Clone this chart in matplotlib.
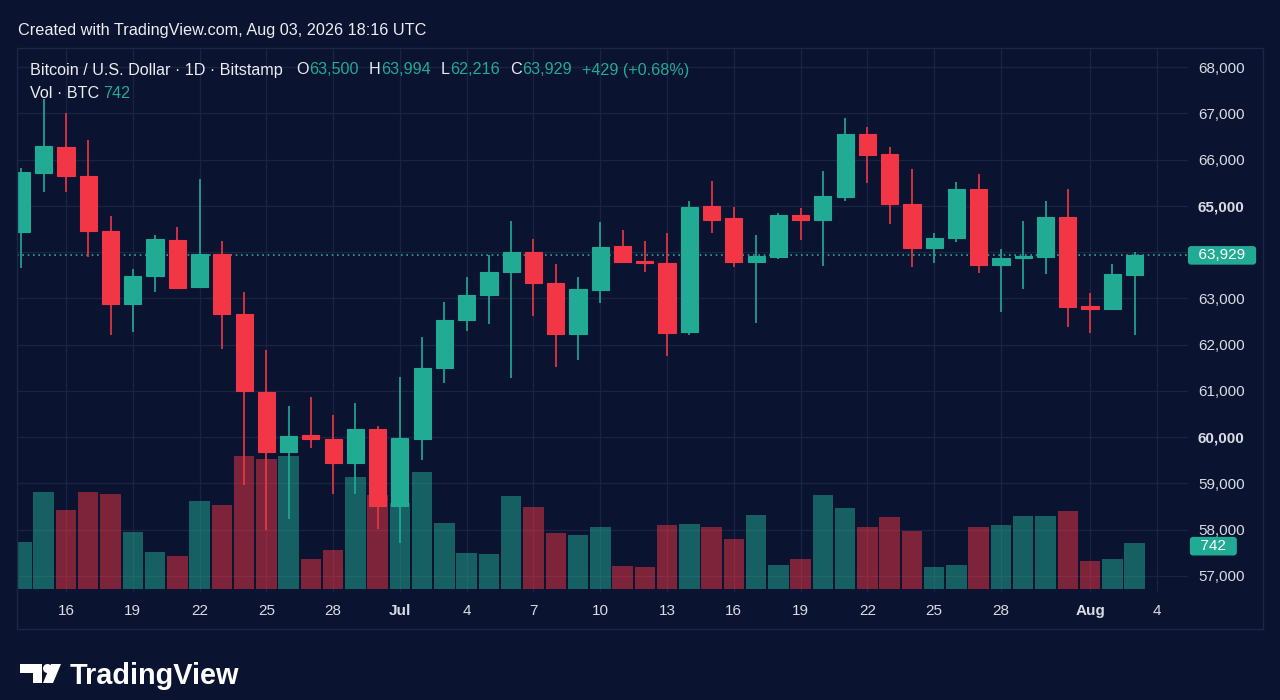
import numpy as np
import pandas as pd
import matplotlib
matplotlib.use("Agg")
import matplotlib.pyplot as plt
from matplotlib.patches import Rectangle, Circle, Polygon
from matplotlib.transforms import blended_transform_factory

plt.rcParams['font.family'] = ['Liberation Sans', 'DejaVu Sans']

# ---------------- data ----------------
dates = pd.date_range('2026-06-14', '2026-08-03', freq='D')
opens = [64434, 65709, 66278, 65638, 64456, 62872, 63477, 64255, 63239, 63965,
         62655, 60983, 59686, 60047, 59954, 59448, 60176, 58512, 59960, 61488,
         62532, 63073, 63576, 64008, 63325, 62230, 63181, 64131, 63810, 63758,
         62266, 64996, 64730, 63786, 63900, 64801, 64693, 65190, 66546, 66113,
         65046, 64095, 64298, 65357, 63714, 63879, 63900, 64752, 62835, 62763,
         63500]
highs = [65817, 67300, 67000, 66422, 64786, 63628, 64369, 64542, 65573, 64233,
         63144, 61884, 60673, 60875, 60479, 60732, 60248, 61294, 62158, 62915,
         63468, 63937, 64672, 64276, 63736, 63468, 64650, 64477, 64239, 64419,
         65110, 65536, 64968, 64369, 64851, 64946, 65759, 66891, 66697, 66278,
         65796, 64419, 65521, 65688, 64060, 64672, 65110, 65357, 63122, 63743,
         63994]
lows = [63656, 65305, 65305, 63900, 62208, 62266, 63131, 63196, 63220, 61905,
        58966, 57994, 58225, 59759, 58772, 58765, 58015, 57719, 59507, 61164,
        62301, 62439, 61272, 62625, 61523, 61668, 62893, 63780, 63576, 61754,
        62208, 64419, 63684, 62474, 63857, 64261, 63706, 65104, 65500, 64600,
        63684, 63758, 64224, 63541, 62699, 63196, 63526, 62387, 62245, 62740,
        62216]
closes = [65731, 66299, 65638, 64456, 62872, 63477, 64276, 63230, 63965, 62655,
          60991, 59686, 60032, 59960, 59448, 60176, 58512, 59976, 61488, 62532,
          63073, 63576, 64008, 63325, 62230, 63196, 64116, 63786, 63770, 62245,
          64981, 64693, 63786, 63915, 64801, 64693, 65219, 66546, 66092, 65046,
          64095, 64298, 65357, 63714, 63879, 63915, 64752, 62813, 62763, 63520,
          63929]
volumes = [749, 1560, 1262, 1555, 1528, 909, 588, 524, 1411, 1347,
           2132, 2084, 2132, 481, 625, 1791, 1507, 1379, 1880, 1058,
           582, 566, 1486, 1310, 898, 861, 989, 374, 348, 1031,
           1042, 994, 797, 1186, 385, 476, 1512, 1303, 989, 1149,
           930, 348, 385, 999, 1026, 1170, 1170, 1246, 449, 476,
           742]
tick_dates = ['2026-06-16', '2026-06-19', '2026-06-22', '2026-06-25', '2026-06-28',
              '2026-07-01', '2026-07-04', '2026-07-07', '2026-07-10', '2026-07-13',
              '2026-07-16', '2026-07-19', '2026-07-22', '2026-07-25', '2026-07-28',
              '2026-08-01', '2026-08-04']
tick_labels = ['16', '19', '22', '25', '28', 'Jul', '4', '7', '10', '13',
               '16', '19', '22', '25', '28', 'Aug', '4']
price_levels = [57000, 58000, 59000, 60000, 61000, 62000, 63000, 64000,
                65000, 66000, 67000, 68000]
price_labels_shown = [57000, 58000, 59000, 60000, 61000, 62000, 63000,
                      65000, 66000, 67000, 68000]

# ---------------- style ----------------
BG = '#0a1330'
GRID = '#1a2442'
UP = '#22ab94'
DOWN = '#f23645'
TXT = '#d9dce3'
HDR = '#eceef2'

W, H = 1280, 700
fig = plt.figure(figsize=(W / 100, H / 100), dpi=100, facecolor=BG)

L, R, T, B = 17, 1188, 48, 592
rect = [L / W, 1 - B / H, (R - L) / W, (B - T) / H]

x = np.array([(d - dates[0]).days for d in dates])
tick_pos = [(pd.Timestamp(d) - dates[0]).days for d in tick_dates]
xlim = (-0.2, 52.4)
ylim = (56653, 68411)

# background axes with grid
ax_bg = fig.add_axes(rect, facecolor=BG, zorder=0)
ax_bg.set_xlim(xlim)
ax_bg.set_ylim(ylim)
ax_bg.set_xticks(tick_pos)
ax_bg.set_yticks(price_levels)
ax_bg.grid(True, color=GRID, linewidth=0.9)
ax_bg.tick_params(length=0, labelbottom=False, labelleft=False)
for s in ax_bg.spines.values():
    s.set_visible(False)

# volume axes
ax_vol = fig.add_axes(rect, zorder=1)
ax_vol.patch.set_visible(False)
ax_vol.set_xlim(xlim)
ax_vol.set_ylim(-48, 8672)
vcols = [UP if c >= o else DOWN for o, c in zip(opens, closes)]
ax_vol.bar(x, volumes, width=0.92, color=vcols, alpha=0.5, linewidth=0)
ax_vol.axis('off')

# price axes
ax = fig.add_axes(rect, zorder=2)
ax.patch.set_visible(False)
ax.set_xlim(xlim)
ax.set_ylim(ylim)
for s in ax.spines.values():
    s.set_visible(False)

ccols = [UP if c >= o else DOWN for o, c in zip(opens, closes)]
ax.vlines(x, lows, highs, colors=ccols, linewidth=1.2, zorder=2)
bottoms = [min(o, c) for o, c in zip(opens, closes)]
heights = [abs(c - o) for o, c in zip(opens, closes)]
ax.bar(x, heights, bottom=bottoms, width=0.77, color=ccols, edgecolor=ccols,
       linewidth=0.8, zorder=3)

# last price line
last = closes[-1]
ax.axhline(last, color=UP, linewidth=1.2, linestyle=(0, (1, 2.2)), zorder=1.8)

# ticks
ax.yaxis.tick_right()
ax.set_yticks(price_labels_shown)
ax.set_yticklabels([f'{v:,}' for v in price_labels_shown])
ax.tick_params(axis='y', length=0, pad=7.2, labelsize=11, labelcolor=TXT)
for lab, v in zip(ax.get_yticklabels(), price_labels_shown):
    if v in (60000, 65000):
        lab.set_fontweight('bold')
ax.set_xticks(tick_pos)
ax.set_xticklabels(tick_labels)
ax.tick_params(axis='x', length=0, pad=8.4, labelsize=11, labelcolor=TXT)
for lab in ax.get_xticklabels():
    if lab.get_text() in ('Jul', 'Aug'):
        lab.set_fontweight('bold')

# badges
ax.annotate(f'  {last:,}  ', xy=(1, last), xycoords=('axes fraction', 'data'),
            xytext=(1.6, 0), textcoords='offset points', ha='left', va='center',
            color='white', fontsize=11, annotation_clip=False, zorder=5,
            bbox=dict(boxstyle='round,pad=0.15,rounding_size=0.2', fc=UP, ec='none'))
vol_tr = blended_transform_factory(ax.transAxes, ax_vol.transData)
ax.annotate(f'  {volumes[-1]:,}  ', xy=(1, volumes[-1]), xycoords=vol_tr,
            xytext=(3.0, -2.5), textcoords='offset points', ha='left', va='center',
            color='white', fontsize=11, annotation_clip=False, zorder=5,
            bbox=dict(boxstyle='round,pad=0.15,rounding_size=0.2', fc=UP, ec='none'))

# overlay for frame, header, logo
ov = fig.add_axes([0, 0, 1, 1], zorder=10)
ov.patch.set_visible(False)
ov.set_xlim(0, W)
ov.set_ylim(H, 0)
ov.axis('off')
ov.add_patch(Rectangle((17, 48), 1263 - 17, 629 - 48, fill=False,
                       edgecolor='#1c2747', linewidth=1.0))

ov.text(18, 30, 'Created with TradingView.com, Aug 03, 2026 18:16 UTC',
        color=HDR, fontsize=11.7, va='center', ha='left')

FS = 11.6
t = ov.text(30, 70, 'Bitcoin / U.S. Dollar · 1D · Bitstamp', color=HDR,
            fontsize=FS, va='center', ha='left')
segs = [('O', HDR, 10), (f'{opens[-1]:,}', UP, 0),
        ('H', HDR, 7.5), (f'{highs[-1]:,}', UP, 0),
        ('L', HDR, 7.5), (f'{lows[-1]:,}', UP, 0),
        ('C', HDR, 7.5), (f'{closes[-1]:,}', UP, 0),
        (f'+{closes[-1] - opens[-1]:,} (+{(closes[-1] - opens[-1]) / opens[-1] * 100:.2f}%)', UP, 7.5)]
prev = t
for s, c, g in segs:
    prev = ov.annotate(s, xy=(1, 0.5), xycoords=prev, xytext=(g, 0),
                       textcoords='offset points', color=c, fontsize=FS,
                       va='center', ha='left')

tv = ov.text(30, 93, 'Vol · BTC', color=HDR, fontsize=FS, va='center', ha='left')
ov.annotate(f'{volumes[-1]:,}', xy=(1, 0.5), xycoords=tv, xytext=(3, 0),
            textcoords='offset points', color=UP, fontsize=FS, va='center', ha='left')

# TradingView logo
ov.add_patch(Rectangle((20, 664), 22, 9, color='white', linewidth=0))
ov.add_patch(Rectangle((33, 664), 9, 19, color='white', linewidth=0))
ov.add_patch(Circle((47.5, 668.5), 4.5, color='white', linewidth=0))
ov.add_patch(Polygon([(51, 664), (61, 664), (53, 683), (43, 683)], closed=True,
                     color='white', linewidth=0))
ov.text(70, 676, 'TradingView', color='white', fontsize=20.8, fontweight='bold',
        va='center', ha='left')

fig.savefig('out.png', dpi=100, facecolor=BG)
